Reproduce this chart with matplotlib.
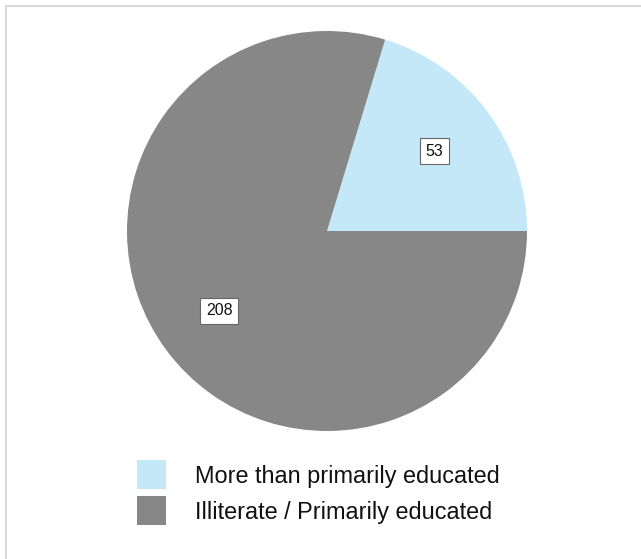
import matplotlib
matplotlib.use("Agg")
import matplotlib.pyplot as plt
from matplotlib.patches import Rectangle

plt.rcParams['font.family'] = ['Liberation Sans', 'DejaVu Sans']

categories = ["More than primarily educated", "Illiterate / Primarily educated"]
values = [53, 208]
colors = ["#c5e8f8", "#878787"]

W, H = 641, 559
fig = plt.figure(figsize=(W / 100, H / 100), dpi=100)

# figure border (left/top visible)
fig.patches.append(Rectangle((6 / W, -0.1), 1.2, (H - 6) / H + 0.1, transform=fig.transFigure,
                             fill=False, edgecolor="#d9d9d9", linewidth=1.5))

cx, cy, r = 327, 231, 200
ax = fig.add_axes([(cx - r) / W, (H - cy - r) / H, 2 * r / W, 2 * r / H])
wedges, texts = ax.pie(values, colors=colors, startangle=0, counterclock=True,
                       labels=[str(v) for v in values], labeldistance=0.67,
                       wedgeprops=dict(linewidth=0))
for t in texts:
    t.set_ha("center")
    t.set_va("center")
    t.set_fontsize(11.5)
    t.set_color("#111111")
    t.set_bbox(dict(boxstyle="square,pad=0.35", facecolor="white", edgecolor="#666666", linewidth=0.8))
ax.set_xlim(-1, 1)
ax.set_ylim(-1, 1)
ax.set_aspect("equal")
ax.axis("off")

# legend drawn in figure pixel coordinates
sq = 29
row_tops = [460, 496]
for name, col, top in zip(categories, colors, row_tops):
    fig.patches.append(Rectangle((137 / W, (H - top - sq) / H), sq / W, sq / H,
                                 transform=fig.transFigure, facecolor=col, edgecolor="none"))
    fig.text(195 / W, (H - top - 23) / H, name, fontsize=16.9, color="#111111",
             ha="left", va="baseline")

fig.savefig("out.png", dpi=100, facecolor="white")
